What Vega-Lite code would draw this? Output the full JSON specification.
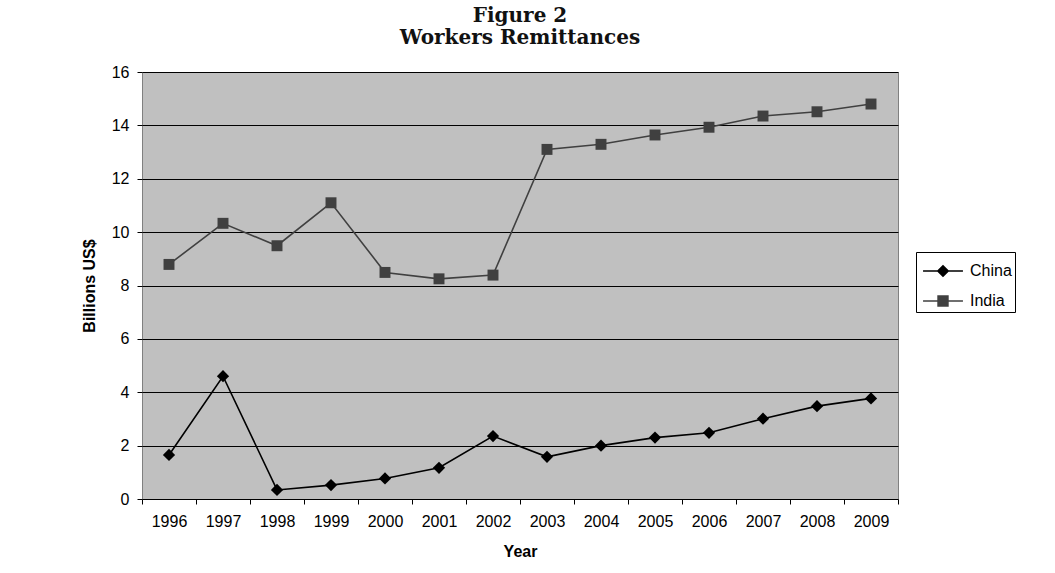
{
  "$schema": "https://vega.github.io/schema/vega-lite/v6.json",
  "width": 756,
  "height": 427,
  "autosize": "none",
  "padding": {"left": 142, "top": 72, "right": 157, "bottom": 74},
  "background": "white",
  "title": {
    "text": ["Figure 2", "Workers Remittances"],
    "font": "DejaVu Serif",
    "fontWeight": "bold",
    "fontSize": 20,
    "lineHeight": 22,
    "color": "#111111",
    "anchor": "middle",
    "frame": "group",
    "offset": 16
  },
  "data": {
    "values": [
      {"year": 1996, "series": "China", "value": 1.65},
      {"year": 1997, "series": "China", "value": 4.6},
      {"year": 1998, "series": "China", "value": 0.34},
      {"year": 1999, "series": "China", "value": 0.52},
      {"year": 2000, "series": "China", "value": 0.77},
      {"year": 2001, "series": "China", "value": 1.17},
      {"year": 2002, "series": "China", "value": 2.36},
      {"year": 2003, "series": "China", "value": 1.58},
      {"year": 2004, "series": "China", "value": 2.0},
      {"year": 2005, "series": "China", "value": 2.3},
      {"year": 2006, "series": "China", "value": 2.48},
      {"year": 2007, "series": "China", "value": 3.01},
      {"year": 2008, "series": "China", "value": 3.48},
      {"year": 2009, "series": "China", "value": 3.77},
      {"year": 1996, "series": "India", "value": 8.79},
      {"year": 1997, "series": "India", "value": 10.33},
      {"year": 1998, "series": "India", "value": 9.49},
      {"year": 1999, "series": "India", "value": 11.1},
      {"year": 2000, "series": "India", "value": 8.49},
      {"year": 2001, "series": "India", "value": 8.25},
      {"year": 2002, "series": "India", "value": 8.39},
      {"year": 2003, "series": "India", "value": 13.1},
      {"year": 2004, "series": "India", "value": 13.29},
      {"year": 2005, "series": "India", "value": 13.64},
      {"year": 2006, "series": "India", "value": 13.93},
      {"year": 2007, "series": "India", "value": 14.35},
      {"year": 2008, "series": "India", "value": 14.51},
      {"year": 2009, "series": "India", "value": 14.8}
    ]
  },
  "config": {
    "view": {"fill": "#c0c0c0", "stroke": "#808080", "strokeWidth": 1},
    "axis": {
      "labelFont": "Liberation Sans",
      "labelFontSize": 16,
      "labelColor": "#000000",
      "titleFont": "Liberation Sans",
      "titleFontSize": 16,
      "titleFontWeight": "bold",
      "titleColor": "#000000",
      "tickColor": "#000000",
      "tickSize": 5,
      "tickWidth": 1
    }
  },
  "encoding": {
    "x": {
      "field": "year",
      "type": "quantitative",
      "scale": {"domain": [1995.5, 2009.5], "nice": false, "zero": false},
      "axis": {
        "title": "Year",
        "values": [1995.5, 1996.5, 1997.5, 1998.5, 1999.5, 2000.5, 2001.5, 2002.5, 2003.5, 2004.5, 2005.5, 2006.5, 2007.5, 2008.5, 2009.5],
        "labelExpr": "datum.value < 2009 ? format(datum.value + 0.5, 'd') : ''",
        "labelOffset": 27,
        "labelFlush": false,
        "labelOverlap": false,
        "labelPadding": 9,
        "grid": false,
        "domain": false,
        "titlePadding": 14
      }
    },
    "y": {
      "field": "value",
      "type": "quantitative",
      "scale": {"domain": [0, 16], "nice": false},
      "axis": {
        "title": "Billions US$",
        "values": [0, 2, 4, 6, 8, 10, 12, 14, 16],
        "format": "d",
        "grid": true,
        "gridColor": "#000000",
        "gridWidth": 1,
        "gridOpacity": 1,
        "domain": false,
        "labelPadding": 8,
        "titlePadding": 14
      }
    },
    "color": {
      "field": "series",
      "type": "nominal",
      "scale": {"domain": ["China", "India"], "range": ["#000000", "#404040"]},
      "legend": {
        "title": null,
        "orient": "none",
        "legendX": 774,
        "legendY": 180,
        "strokeColor": "#000000",
        "fillColor": "#ffffff",
        "padding": 3,
        "labelFont": "Liberation Sans",
        "labelFontSize": 16,
        "labelColor": "#000000",
        "labelOffset": 11,
        "symbolOffset": 8,
        "symbolSize": 900,
        "rowPadding": 5,
        "encode": {
          "symbols": {
            "update": {
              "shape": {"signal": "datum.value === 'China' ? 'M-1.33,0H1.33M-0.35,0L0,-0.35L0.35,0L0,0.35Z' : 'M-1.33,0H1.33M-0.33,-0.33H0.33V0.33H-0.33Z'"},
              "size": {"value": 900},
              "strokeWidth": {"value": 1.5},
              "fill": {"signal": "datum.value === 'China' ? '#000000' : '#404040'"},
              "stroke": {"signal": "datum.value === 'China' ? '#000000' : '#404040'"},
              "fillOpacity": {"value": 1},
              "opacity": {"value": 1}
            }
          }
        }
      }
    }
  },
  "layer": [
    {
      "mark": {"type": "line", "strokeWidth": 1.6}
    },
    {
      "transform": [{"filter": "datum.series === 'China'"}],
      "mark": {"type": "point", "shape": "diamond", "size": 150, "filled": true, "opacity": 1}
    },
    {
      "transform": [{"filter": "datum.series === 'India'"}],
      "mark": {"type": "point", "shape": "square", "size": 120, "filled": true, "opacity": 1}
    }
  ]
}
